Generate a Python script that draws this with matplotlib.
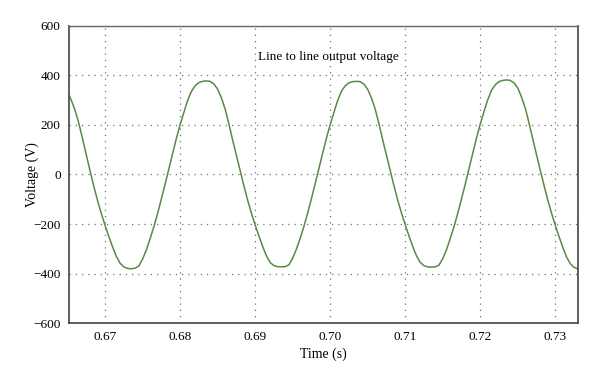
import numpy as np
import matplotlib
matplotlib.use("Agg")
import matplotlib.pyplot as plt

# sampled every 0.5 ms from 0.665 s to 0.733 s
t_start = 0.665
t_step = 0.0005

# voltage, one row per half cycle
fall_1 = [335, 300, 260, 208, 145, 80, 15, -47, -105, -157, -205, -250, -292, -330, -358, -373, -379, -381]
rise_1 = [-378, -370, -342, -305, -260, -212, -158, -100, -40, 22, 85, 145, 200, 250, 298, 335, 358, 371, 376, 378]
fall_2 = [376, 366, 345, 310, 265, 205, 140, 78, 15, -45, -103, -155, -203, -248, -290, -328, -355, -368, -372, -373]
rise_2 = [-372, -365, -338, -302, -258, -210, -156, -98, -38, 24, 86, 146, 201, 251, 299, 336, 358, 370, 375, 376]
fall_3 = [375, 365, 344, 309, 264, 205, 140, 78, 15, -45, -103, -155, -203, -248, -290, -328, -355, -368, -373, -374]
rise_3 = [-373, -366, -340, -304, -259, -211, -157, -99, -39, 23, 86, 147, 203, 254, 302, 340, 362, 375, 380, 382]
fall_4 = [380, 370, 349, 313, 268, 208, 143, 80, 17, -44, -103, -156, -205, -251, -294, -333, -360, -375, -381]

volts = fall_1 + rise_1 + fall_2 + rise_2 + fall_3 + rise_3 + fall_4
time = t_start + t_step * np.arange(len(volts))

xticks = [0.67, 0.68, 0.69, 0.70, 0.71, 0.72, 0.73]
yticks = [-600, -400, -200, 0, 200, 400, 600]

plt.rcParams['font.family'] = ['Liberation Serif', 'DejaVu Serif']

fig = plt.figure(figsize=(6, 3.81), dpi=100)
ax = fig.add_axes([0.115, 0.152, 0.848, 0.780])

ax.plot(time, volts, color='#588a44', lw=1.1)

ax.set_xlim(0.6652, 0.733)
ax.set_ylim(-600, 600)
ax.set_xticks(xticks)
ax.set_xticklabels(['%.2f' % v for v in xticks])
ax.set_yticks(yticks)
ax.set_yticklabels([('\u2212%d' % -v) if v < 0 else '%d' % v for v in yticks])
ax.tick_params(length=0, labelsize=9.5, pad=6)

ax.grid(True, linestyle=(0, (1, 4)), color='#707070', lw=0.9)

for side in ['left', 'bottom', 'right']:
    ax.spines[side].set_color('#444444')
    ax.spines[side].set_linewidth(1.2)
ax.spines['top'].set_color('#666666')
ax.spines['top'].set_linewidth(1.0)

ax.set_xlabel('Time (s)', fontsize=10, labelpad=3)
ax.set_ylabel('Voltage (V)', fontsize=10, labelpad=-4)

ax.text(0.6997, 475, 'Line to line output voltage', fontsize=9.5, ha='center', va='center')

fig.savefig('out.png', dpi=100)
